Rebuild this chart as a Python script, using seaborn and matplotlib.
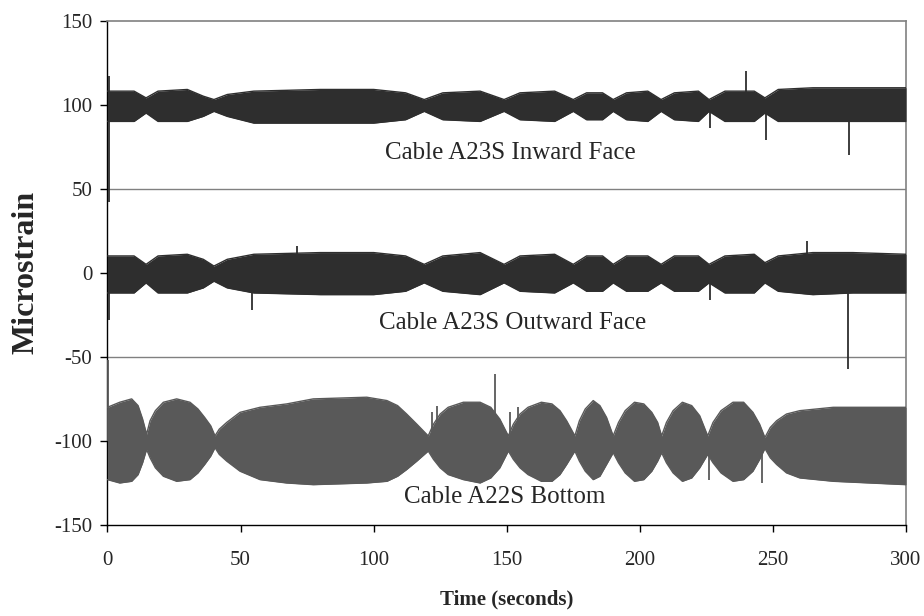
import matplotlib
matplotlib.use("Agg")
import matplotlib.pyplot as plt
import seaborn as sns
import pandas as pd

# ---------------- data ----------------
# Cable A22S Bottom : envelope (upper / lower edge) of the dense signal
bot_t  = [0, 4.6, 9.1, 11.5, 13.2, 14.7,
          16, 18, 21, 26, 31, 34, 36.5, 38.8, 40.4,
          42, 44.8, 49.8, 57.3, 67.3, 77.3, 97.4, 105, 109, 112.4, 116.2, 120.5,
          122.5, 125, 128, 133.7, 140, 144, 147.4, 150.6,
          152.5, 155, 158, 163, 167, 170, 172.5, 175.6,
          177.3, 179.5, 182.5, 185, 187.5, 190,
          192, 194.5, 198, 201.5, 204.5, 206.7, 208.2,
          210, 212.5, 216, 219.5, 222.5, 225.5,
          227.5, 230.5, 235, 239, 242.5, 245, 247,
          249, 251.4, 255.1, 260.1, 272.7, 300]
bot_hi = [-80, -77, -75, -79, -87, -96,
          -88, -82, -77, -75, -77, -81, -86, -91, -97,
          -93, -89, -83, -80, -78, -75, -74, -76, -79, -84, -90, -97,
          -90, -84, -80, -77, -77, -80, -87, -97,
          -90, -84, -80, -77, -78, -82, -88, -97,
          -88, -81, -76, -79, -86, -97,
          -89, -82, -77, -78, -83, -89, -97,
          -89, -82, -77, -79, -85, -97,
          -89, -82, -77, -77, -83, -90, -98,
          -92, -88, -84, -82, -80, -80]
bot_lo = [-123, -125, -124, -120, -113, -105,
          -110, -116, -121, -124, -123, -119, -114, -109, -104,
          -108, -112, -118, -123, -125, -126, -125, -124, -121, -117, -112, -106,
          -111, -116, -120, -123, -125, -122, -116, -106,
          -111, -116, -120, -124, -124, -120, -114, -106,
          -112, -118, -123, -121, -114, -107,
          -113, -119, -124, -123, -118, -112, -107,
          -113, -119, -124, -122, -116, -108,
          -113, -119, -124, -123, -118, -111, -104.5,
          -110, -114, -119, -122, -124, -126]

# Cable A23S Outward Face
mid_t  = [0, 10, 14.5, 19, 30, 36, 40, 45, 55, 80, 100, 112, 119, 126, 140, 149, 155, 168, 175,
          180, 186, 190, 195, 203, 208, 213, 222, 226, 232, 243, 247, 252, 265, 280, 300]
mid_hi = [10, 10, 5, 10, 11, 8, 4, 8, 11, 12, 12, 10, 5, 10, 12, 5, 10, 11, 5,
          10, 10, 5, 10, 10, 5, 10, 10, 5, 10, 11, 6, 10, 12, 12, 11]
mid_lo = [-12, -12, -6, -12, -12, -9, -5, -9, -12, -13, -13, -11, -6, -11, -13, -6, -11, -12, -6,
          -11, -11, -6, -11, -11, -6, -11, -11, -6, -12, -12, -6, -11, -13, -12, -12]

# Cable A23S Inward Face
top_t  = [0, 10, 14.5, 19, 30, 36, 40, 45, 55, 80, 100, 112, 119, 126, 140, 149, 155, 168, 175,
          180, 186, 190, 195, 203, 208, 213, 222, 226, 232, 243, 247, 252, 265, 280, 300]
top_hi = [108, 108, 104, 108, 109, 105, 103, 106, 108, 109, 109, 107, 103, 107, 108, 103, 107, 108, 103,
          107, 107, 103, 107, 108, 103, 107, 108, 103, 108, 108, 104, 109, 110, 110, 110]
top_lo = [90, 90, 95, 90, 90, 93, 96, 93, 89, 89, 89, 91, 96, 91, 90, 96, 91, 90, 96,
          91, 91, 96, 91, 90, 96, 91, 90, 96, 90, 90, 95, 90, 90, 90, 90]

# isolated spikes: (time, base, tip)
top_spk_t = [0.4, 0.6, 226.3, 239.8, 247.4, 278.5]
top_spk_b = [100, 100, 100, 100, 100, 100]
top_spk_v = [42, 117, 86, 120, 79, 70]
mid_spk_t = [0.4, 54.2, 71.1, 226.3, 262.7, 278.3]
mid_spk_b = [0, 0, 0, 0, 0, 0]
mid_spk_v = [-28, -22, 16, -16, 19, -57]
bot_spk_t = [0.3, 121.8, 123.7, 145.6, 151.2, 154.3, 226.1, 245.8]
bot_spk_b = [-100, -100, -100, -100, -100, -100, -100, -100]
bot_spk_v = [-52, -83, -79, -60, -83, -80, -123, -125]

labels = ["Cable A23S Inward Face", "Cable A23S Outward Face", "Cable A22S Bottom"]
x_ticks = [0, 50, 100, 150, 200, 250, 300]
y_ticks = [-150, -100, -50, 0, 50, 100, 150]

# ---------------- plotting ----------------
sns.set_style("white")
plt.rcParams['font.family'] = ['Liberation Serif', 'DejaVu Serif']

fig = plt.figure(figsize=(9.24, 6.16), dpi=100)
ax = fig.add_axes([0.1163, 0.1477, 0.8642, 0.819])

dark = "#2e2e2e"
grey = "#595959"

series = [
    (top_t, top_hi, top_lo, dark, top_spk_t, top_spk_b, top_spk_v),
    (mid_t, mid_hi, mid_lo, dark, mid_spk_t, mid_spk_b, mid_spk_v),
    (bot_t, bot_hi, bot_lo, grey, bot_spk_t, bot_spk_b, bot_spk_v),
]
for t, hi, lo, col, st, sb, sv in series:
    df = pd.DataFrame({"t": t, "hi": hi, "lo": lo})
    ax.fill_between(df["t"], df["lo"], df["hi"], color=col, linewidth=0, zorder=3)
    sns.lineplot(data=df, x="t", y="hi", color=col, lw=1.0, ax=ax, zorder=3)
    sns.lineplot(data=df, x="t", y="lo", color=col, lw=1.0, ax=ax, zorder=3)
    ax.vlines(st, sb, sv, color=col, lw=1.3, zorder=3)

# labels inside the plot
ax.text(151.2, 71, labels[0], ha="center", va="center", fontsize=18, zorder=4)
ax.text(152.3, -30, labels[1], ha="center", va="center", fontsize=18, zorder=4)
ax.text(149.3, -133.5, labels[2], ha="center", va="center", fontsize=18, zorder=4)

ax.set_xlim(0, 300)
ax.set_ylim(-150, 150)
ax.set_xticks(x_ticks)
ax.set_yticks(y_ticks)
ax.set_xticklabels([str(v) for v in x_ticks], fontsize=15)
ax.set_yticklabels([str(v) for v in y_ticks], fontsize=15)
ax.tick_params(axis="both", direction="out", length=5, width=1, color="black",
               bottom=True, left=True)
ax.tick_params(axis="x", pad=14)
ax.tick_params(axis="y", pad=6)

for yv in y_ticks[1:-1]:
    ax.axhline(yv, color="#808080", lw=1, zorder=1)

for s in ["left", "bottom"]:
    ax.spines[s].set_color("black")
    ax.spines[s].set_linewidth(1)
for s in ["top", "right"]:
    ax.spines[s].set_color("#808080")
    ax.spines[s].set_linewidth(1.2)

ax.set_xlabel("Time (seconds)", fontsize=15, fontweight="bold", labelpad=14)
ax.set_ylabel("Microstrain", fontsize=23, fontweight="bold", labelpad=10)

fig.savefig("out.png", dpi=100)
